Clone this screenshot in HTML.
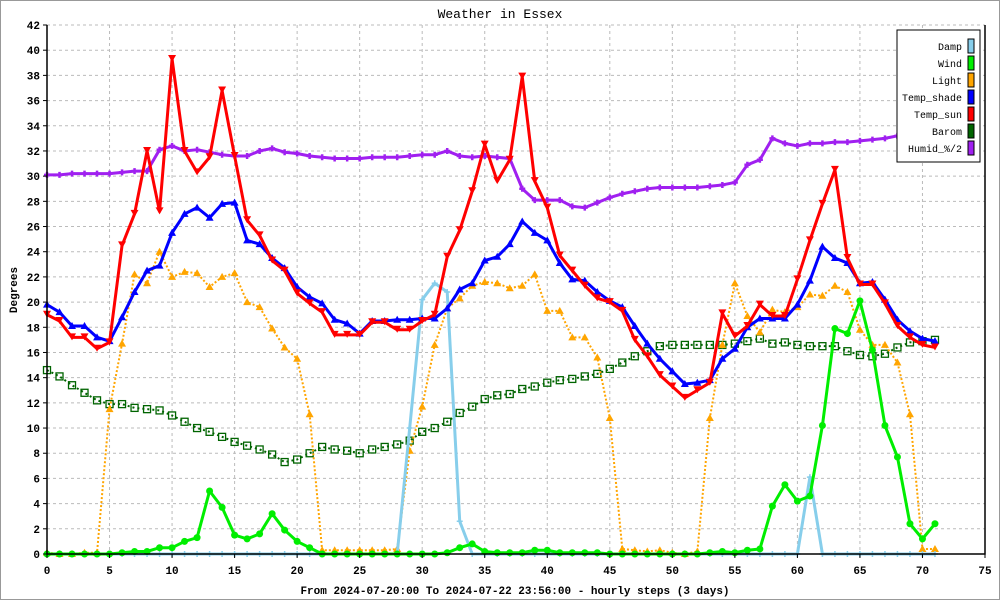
<!DOCTYPE html>
<html><head><meta charset="utf-8"><style>
html,body{margin:0;padding:0;background:#fff}
svg{display:block}
text{font-family:"Liberation Mono","DejaVu Sans Mono",monospace;fill:#000}
</style></head><body>
<svg id="chart" width="1000" height="600" viewBox="0 0 1000 600" xmlns="http://www.w3.org/2000/svg">
<rect x="0.5" y="0.5" width="999" height="599" fill="#fff" stroke="#999"/>
<text x="500" y="18" text-anchor="middle" font-size="13">Weather in Essex</text>
<text transform="translate(17,290) rotate(-90)" text-anchor="middle" font-size="11" font-weight="bold">Degrees</text>
<text x="515" y="594" text-anchor="middle" font-size="11" font-weight="bold">From 2024-07-20:00 To 2024-07-22 23:56:00 - hourly steps (3 days)</text>
<g id="grid"></g>
<g id="series"></g>
<g id="axes"></g>
<g id="legend"></g>
</svg>
<script>
const xTicks=[0,5,10,15,20,25,30,35,40,45,50,55,60,65,70,75];
const yTicks=[0,2,4,6,8,10,12,14,16,18,20,22,24,26,28,30,32,34,36,38,40,42];
const damp=[0,0,0,0,0,0,0,0,0,0,0,0,0,0,0,0,0,0,0,0,0,0,0,0,0,0,0,0,0,10,20.2,21.5,20.8,2.6,0,0,0,0,0,0,0,0,0,0,0,0,0,0,0,0,0,0,0,0,0,0,0,0,0,0,0,6.1,0,0,0,0,0,0,0,0,0,0];
const wind=[0,0,0,0,0,0,0.1,0.2,0.2,0.5,0.5,1.0,1.3,5.0,3.7,1.5,1.2,1.6,3.2,1.9,1.0,0.5,0,0,0,0,0,0,0,0,0,0,0.1,0.5,0.8,0.2,0.1,0.1,0.1,0.3,0.3,0.1,0.1,0.1,0.1,0,0,0,0,0,0,0,0,0.1,0.2,0.1,0.3,0.4,3.8,5.5,4.2,4.6,10.2,17.9,17.5,20.1,16.2,10.2,7.7,2.4,1.2,2.4];
const light=[0.1,0,0,0.1,0.1,11.5,16.7,22.2,21.5,24.0,22.0,22.4,22.3,21.2,22.0,22.3,20.0,19.6,17.9,16.4,15.5,11.1,0.3,0.3,0.3,0.3,0.3,0.3,0.4,8.2,11.7,16.6,19.5,20.3,21.3,21.6,21.5,21.1,21.3,22.2,19.3,19.3,17.2,17.2,15.6,10.8,0.4,0.3,0.2,0.3,0.1,0,0.2,10.8,16.6,21.5,18.9,17.6,19.4,19.2,19.6,20.6,20.5,21.3,20.8,17.8,16.6,16.6,15.2,11.1,0.4,0.4];
const tempShade=[19.8,19.2,18.1,18.1,17.2,16.9,18.8,20.8,22.5,22.9,25.5,27.0,27.5,26.7,27.8,27.9,24.9,24.6,23.5,22.7,21.2,20.4,19.9,18.6,18.3,17.5,18.5,18.5,18.6,18.6,18.7,18.7,19.5,21.0,21.5,23.3,23.6,24.6,26.4,25.5,24.9,23.1,21.8,21.7,20.8,20.1,19.6,18.1,16.7,15.5,14.5,13.5,13.6,13.8,15.5,16.3,18.0,18.7,18.7,18.7,19.8,21.7,24.4,23.5,23.1,21.5,21.6,20.2,18.6,17.7,17.1,16.9];
const tempSun=[19.0,18.5,17.2,17.2,16.3,16.8,24.5,27.0,32.0,27.2,39.3,32.0,30.3,31.5,36.8,31.6,26.5,25.3,23.3,22.5,20.7,19.9,19.2,17.4,17.4,17.4,18.4,18.4,17.8,17.8,18.5,19.0,23.6,25.7,28.8,32.5,29.6,31.3,37.9,29.6,27.5,23.7,22.5,21.3,20.3,20.0,19.3,17.0,15.7,14.2,13.3,12.4,13.0,13.6,19.1,17.3,18.1,19.8,18.9,18.9,21.8,24.9,27.8,30.5,23.5,21.4,21.4,19.9,18.1,17.2,16.6,16.4];
const barom=[14.6,14.1,13.4,12.8,12.2,11.9,11.9,11.6,11.5,11.4,11.0,10.5,10.0,9.7,9.3,8.9,8.6,8.3,7.9,7.3,7.5,8.0,8.5,8.3,8.2,8.0,8.3,8.5,8.7,9.0,9.7,10.0,10.5,11.2,11.7,12.3,12.6,12.7,13.1,13.3,13.6,13.8,13.9,14.1,14.3,14.7,15.2,15.7,16.1,16.5,16.6,16.6,16.6,16.6,16.6,16.7,16.9,17.1,16.7,16.8,16.6,16.5,16.5,16.5,16.1,15.8,15.7,15.9,16.4,16.8,16.9,17.0];
const humid=[30.1,30.1,30.2,30.2,30.2,30.2,30.3,30.4,30.4,32.1,32.4,32.0,32.1,31.9,31.7,31.6,31.6,32.0,32.2,31.9,31.8,31.6,31.5,31.4,31.4,31.4,31.5,31.5,31.5,31.6,31.7,31.7,32.0,31.6,31.5,31.6,31.5,31.4,29.0,28.1,28.1,28.1,27.6,27.5,27.9,28.3,28.6,28.8,29.0,29.1,29.1,29.1,29.1,29.2,29.3,29.5,30.9,31.3,33.0,32.6,32.4,32.6,32.6,32.7,32.7,32.8,32.9,33.0,33.2,33.2,33.3,33.3];
const legendLabels=["Damp","Wind","Light","Temp_shade","Temp_sun","Barom","Humid_%/2"];

const NS="http://www.w3.org/2000/svg";
const X0=47,X1=985,Y0=554,Y1=25;
const xs=v=>X0+(X1-X0)*v/75;
const ys=v=>Y0-(Y0-Y1)*v/42;
function mk(tag,attrs,parent){const e=document.createElementNS(NS,tag);for(const k in attrs)e.setAttribute(k,attrs[k]);parent.appendChild(e);return e;}
const grid=document.getElementById('grid'),axes=document.getElementById('axes'),ser=document.getElementById('series'),leg=document.getElementById('legend');

yTicks.forEach(t=>{
  if(t>0){const l=mk('line',{x1:X0,x2:X1,y1:ys(t),y2:ys(t),stroke:'#bbb','stroke-dasharray':'3,3'},grid);
  
  }
  const tk=mk('line',{x1:X0-4,x2:X0,y1:ys(t),y2:ys(t),stroke:'#000'},axes);
  
  
  const tx=mk('text',{x:X0-7,y:ys(t)+4,'text-anchor':'end','font-size':'11','font-weight':'bold'},axes);
  tx.textContent=t;
  
  
});
xTicks.forEach(t=>{
  if(t>0&&t<75){const l=mk('line',{x1:xs(t),x2:xs(t),y1:Y1,y2:Y0,stroke:'#bbb','stroke-dasharray':'3,3'},grid);
  
  }
  const tk=mk('line',{x1:xs(t),x2:xs(t),y1:Y0,y2:Y0+4,stroke:'#000'},axes);
  
  
  const tx=mk('text',{x:xs(t),y:Y0+20,'text-anchor':'middle','font-size':'11','font-weight':'bold'},axes);
  tx.textContent=t;
  
  
});
const ax=mk('path',{d:`M${X0},${Y1}V${Y0}H${X1}V${Y1}`,fill:'none',stroke:'#000','stroke-width':'1.5'},axes);



function marker(type,x,y,c,g){
  let e;
  if(type==='tri-up')e=mk('path',{d:`M${x-4},${y+3}L${x},${y-4}L${x+4},${y+3}Z`,fill:c},g);
  else if(type==='tri-down')e=mk('path',{d:`M${x-4},${y-4}L${x},${y+3}L${x+4},${y-4}Z`,fill:c},g);
  else if(type==='circle')e=mk('circle',{cx:x,cy:y,r:3.5,fill:c},g);
  else if(type==='square')e=mk('rect',{x:x-3.5,y:y-3.5,width:7,height:7,fill:'none',stroke:c,'stroke-width':1.3},g);
  else if(type==='cross')e=mk('path',{d:`M${x-3},${y}H${x+3}M${x},${y-3}V${y+3}`,stroke:c,'stroke-width':2.5},g);
  else e=mk('path',{d:`M${x-3},${y}H${x+3}M${x},${y-3}V${y+3}`,stroke:c,'stroke-width':1.5},g);
  
  
}
function drawSeries(name,arr,color,width,dash,mtype,mcol){
  const g=mk('g',{},ser);
  
  
  const pts=arr.map((v,i)=>xs(i)+','+ys(v)).join(' ');
  const attrs={points:pts,fill:'none',stroke:color,'stroke-width':width,'stroke-linejoin':'round'};
  if(dash)attrs['stroke-dasharray']=dash;
  const pl=mk('polyline',attrs,g);
  
  
  arr.forEach((v,i)=>marker(mtype,xs(i),ys(v),mcol||color,g));
}
drawSeries('humid',humid,'#a020f0',3,null,'cross');
drawSeries('barom',barom,'#006400',2,'2,3','square');
drawSeries('light',light,'#ffa500',2,'2,2','tri-up');
drawSeries('damp',damp,'#87ceeb',3,null,'plus');
drawSeries('wind',wind,'#00ee00',3,null,'circle');
drawSeries('temp-shade',tempShade,'#0000ff',3,null,'tri-up');
drawSeries('temp-sun',tempSun,'#ff0000',3,null,'tri-down');

const legendColors=['#87ceeb','#00ee00','#ffa500','#0000ff','#ff0000','#006400','#a020f0'];
const lb=mk('rect',{x:897,y:30,width:83,height:132,fill:'#fff',stroke:'#000','stroke-width':1},leg);


legendLabels.forEach((lab,i)=>{
  const y=46+i*17;
  const t=mk('text',{x:962,y:y+4,'text-anchor':'end','font-size':'10'},leg);
  t.textContent=lab;
  
  
  const s=mk('rect',{x:968,y:y-7,width:6,height:14,fill:legendColors[i],stroke:'#000','stroke-width':1},leg);
  
  
});
</script>
</body></html>
